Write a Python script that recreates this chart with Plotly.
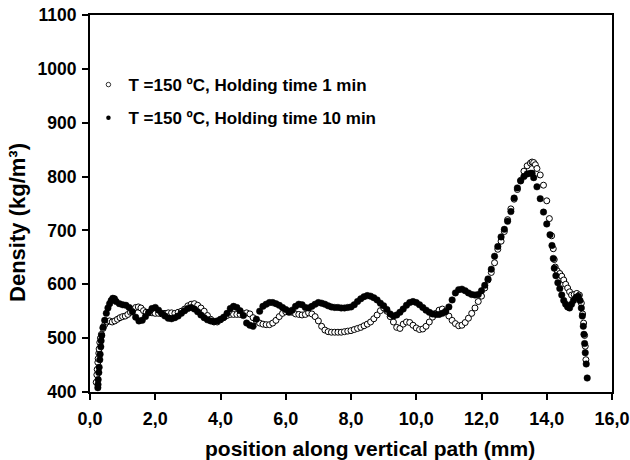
import plotly.graph_objects as go

# ---- data: T = 150 ºC, holding time 1 min (open circles) ----
x_1min = [0.19, 0.21, 0.22, 0.24, 0.25, 0.27, 0.28, 0.30, 0.32, 0.35, 0.40, 0.45, 0.52, 0.60, 0.68,
          0.76, 0.84, 0.92, 1.00, 1.08, 1.16, 1.24, 1.32, 1.40, 1.48, 1.56, 1.64, 1.72, 1.80, 1.90,
          2.00, 2.10, 2.20, 2.30, 2.40, 2.50, 2.60, 2.70, 2.80, 2.90, 3.00, 3.10, 3.20, 3.30, 3.40,
          3.50, 3.60, 3.70, 3.80, 3.90, 4.00, 4.10, 4.20, 4.30, 4.40, 4.50, 4.60, 4.70, 4.80, 4.90,
          5.00, 5.10, 5.20, 5.30, 5.40, 5.50, 5.60, 5.70, 5.80, 5.90, 6.00, 6.10, 6.20, 6.30, 6.40,
          6.50, 6.60, 6.70, 6.80, 6.90, 7.00, 7.10, 7.20, 7.30, 7.40, 7.50, 7.60, 7.70, 7.80, 7.90,
          8.00, 8.10, 8.20, 8.30, 8.40, 8.50, 8.60, 8.70, 8.80, 8.90, 9.00, 9.10, 9.20, 9.30, 9.40,
          9.50, 9.60, 9.70, 9.80, 9.90, 10.00, 10.10, 10.20, 10.30, 10.40, 10.50, 10.60, 10.70, 10.80,
          10.90, 11.00, 11.10, 11.20, 11.30, 11.40, 11.50, 11.60, 11.70, 11.80, 11.90, 12.00, 12.10,
          12.20, 12.30, 12.40, 12.50, 12.60, 12.70, 12.80, 12.90, 13.00, 13.10, 13.20, 13.30, 13.40,
          13.50, 13.55, 13.60, 13.65, 13.70, 13.80, 13.90, 14.00, 14.08, 14.15, 14.20, 14.23, 14.26,
          14.32, 14.40, 14.46, 14.52, 14.58, 14.64, 14.70, 14.76, 14.84, 14.92, 15.00, 15.06, 15.10,
          15.13, 15.16, 15.18, 15.20]
y_1min = [418, 432, 442, 455, 462, 472, 480, 492, 500, 507, 518, 525, 530, 532, 530,
          532, 535, 538, 540, 541, 544, 548, 553, 557, 558, 556, 551, 548, 547, 547,
          546, 546, 545, 546, 547, 547, 546, 548, 550, 554, 560, 563, 564, 561, 556,
          550, 542, 535, 530, 530, 534, 538, 542, 544, 544, 544, 544, 545, 547, 545,
          538, 532, 528, 526, 525, 525, 528, 533, 540, 546, 549, 550, 548, 545, 544,
          543, 544, 547, 545, 540, 532, 522, 515, 512, 511, 511, 511, 511, 512, 513,
          514, 516, 518, 520, 523, 526, 530, 536, 543, 551, 556, 550, 540, 530, 520,
          518, 526, 530, 529, 524, 519, 516, 517, 522, 530, 539, 546, 552, 554,
          550, 541, 533, 527, 523, 524, 529, 537, 546, 556, 568, 578, 593,
          608, 622, 640, 665, 680, 698, 720, 740, 758, 776, 793, 810, 820,
          825, 827, 826, 822, 815, 803, 784, 755, 722, 690, 666, 646, 632,
          625, 620, 615, 608, 600, 593, 586, 580, 581, 583, 580, 565, 545,
          528, 505, 485, 460]

# ---- data: T = 150 ºC, holding time 10 min (filled circles) ----
x_10min = [0.24, 0.245, 0.25, 0.27, 0.28, 0.30, 0.31, 0.33, 0.34, 0.36, 0.40, 0.45, 0.50, 0.55, 0.60,
           0.65, 0.70, 0.75, 0.80, 0.90, 1.00, 1.10, 1.20, 1.30, 1.40, 1.50, 1.60, 1.70, 1.80, 1.90,
           2.00, 2.10, 2.20, 2.30, 2.40, 2.50, 2.60, 2.70, 2.80, 2.90, 3.00, 3.10, 3.20, 3.30, 3.40,
           3.50, 3.60, 3.70, 3.80, 3.90, 4.00, 4.10, 4.20, 4.30, 4.40, 4.50, 4.60, 4.70, 4.80, 4.90,
           5.00, 5.10, 5.20, 5.30, 5.40, 5.50, 5.60, 5.70, 5.80, 5.90, 6.00, 6.10, 6.20, 6.30, 6.40,
           6.50, 6.60, 6.70, 6.80, 6.90, 7.00, 7.10, 7.20, 7.30, 7.40, 7.50, 7.60, 7.70, 7.80, 7.90,
           8.00, 8.10, 8.20, 8.30, 8.40, 8.50, 8.60, 8.70, 8.80, 8.90, 9.00, 9.10, 9.20, 9.30, 9.40,
           9.50, 9.60, 9.70, 9.80, 9.90, 10.00, 10.10, 10.20, 10.30, 10.40, 10.50, 10.60, 10.70, 10.80,
           10.90, 11.00, 11.10, 11.20, 11.30, 11.40, 11.50, 11.60, 11.70, 11.80, 11.90, 12.00, 12.10,
           12.20, 12.30, 12.40, 12.50, 12.60, 12.70, 12.80, 12.90, 13.00, 13.10, 13.20, 13.30, 13.40,
           13.50, 13.55, 13.60, 13.70, 13.80, 13.90, 14.00, 14.10, 14.16, 14.20, 14.23, 14.28, 14.34,
           14.40, 14.46, 14.52, 14.58, 14.64, 14.70, 14.76, 14.82, 14.90, 14.97, 15.02, 15.06, 15.09,
           15.12, 15.14, 15.16, 15.18, 15.21, 15.24]
y_10min = [408, 414, 423, 436, 446, 460, 470, 484, 495, 505, 520, 533, 546, 556, 564,
           570, 574, 573, 568, 564, 562, 561, 557, 549, 539, 532, 533, 540, 548, 555,
           557, 552, 546, 541, 537, 536, 538, 541, 546, 551, 555, 557, 554, 549, 543,
           538, 534, 532, 531, 532, 535, 539, 546, 555, 559, 557, 551, 542, 528, 524,
           522, 535, 550, 559, 563, 566, 566, 564, 561, 557, 553, 548, 552, 559, 563,
           562, 557, 556, 559, 563, 566, 565, 563, 560, 558, 557, 557, 556, 556, 557,
           558, 562, 568, 573, 577, 579, 578, 575, 571, 565, 560, 553, 545, 541, 543,
           548, 554, 561, 566, 568, 566, 562, 557, 552, 548, 545, 544, 544, 546,
           549, 558, 571, 584, 590, 591, 588, 584, 581, 580, 581, 588, 598,
           610, 628, 652, 670, 688, 702, 717, 735, 760, 779, 792, 800, 805,
           806, 806, 798, 781, 759, 734, 712, 692, 672, 648, 630, 616, 603,
           592, 580, 570, 563, 558, 556, 563, 570, 576, 578, 570, 556, 541,
           522, 507, 490, 473, 452, 426]

x_tick_vals = [0, 2, 4, 6, 8, 10, 12, 14, 16]
x_tick_text = ["0,0", "2,0", "4,0", "6,0", "8,0", "10,0", "12,0", "14,0", "16,0"]
y_tick_vals = [400, 500, 600, 700, 800, 900, 1000, 1100]

series_names = ["T =150 ºC, Holding time 1 min", "T =150 ºC, Holding time 10 min"]
x_title = "position along vertical path (mm)"
y_title = "Density (kg/m³)"

FONT = "Liberation Sans, Arial, Helvetica, sans-serif"

open_marker = dict(symbol="circle", size=6, color="white", line=dict(color="black", width=1))
filled_marker = dict(symbol="circle", size=6.5, color="black", line=dict(color="black", width=0.5))

fig = go.Figure()
fig.add_trace(go.Scatter(x=x_1min, y=y_1min, mode="markers", name=series_names[0],
                         marker=open_marker, cliponaxis=False, showlegend=False))
fig.add_trace(go.Scatter(x=x_10min, y=y_10min, mode="markers", name=series_names[1],
                         marker=filled_marker, cliponaxis=False, showlegend=False))
# legend entries (smaller legend symbols, as in the original)
fig.add_trace(go.Scatter(x=[None], y=[None], mode="markers", name=series_names[0], legendgroup="a",
                         marker=dict(symbol="circle", size=4.5, color="white",
                                     line=dict(color="black", width=0.8))))
fig.add_trace(go.Scatter(x=[None], y=[None], mode="markers", name=series_names[1], legendgroup="b",
                         marker=dict(symbol="circle", size=4.5, color="black")))

fig.update_layout(
    width=630, height=460,
    margin=dict(l=90, r=18, t=15, b=68),
    paper_bgcolor="white", plot_bgcolor="white",
    font=dict(family=FONT, color="black", size=14),
    showlegend=True,
    legend=dict(
        x=-0.003, y=0.862, xanchor="left", yanchor="top",
        bgcolor="rgba(0,0,0,0)", borderwidth=0,
        font=dict(family=FONT, size=17, color="black", weight="bold"),
        tracegroupgap=8,
    ),
    xaxis=dict(
        range=[0, 16], tickvals=x_tick_vals, ticktext=x_tick_text, automargin=False,
        showline=True, linecolor="black", linewidth=2, mirror=True,
        ticks="outside", ticklen=6, tickwidth=1.5, tickcolor="black",
        showgrid=False, zeroline=False, ticklabelstandoff=3,
        tickfont=dict(family=FONT, size=18, color="black", weight="bold"),
    ),
    yaxis=dict(
        range=[400, 1100], tickvals=y_tick_vals, automargin=False,
        showline=True, linecolor="black", linewidth=2, mirror=True,
        ticks="outside", ticklen=6, tickwidth=1.5, tickcolor="black",
        showgrid=False, zeroline=False, ticklabelstandoff=2,
        tickfont=dict(family=FONT, size=17.5, color="black", weight="bold"),
    ),
    annotations=[
        dict(text=x_title, xref="paper", yref="paper", x=0.536, y=-0.149,
             xanchor="center", yanchor="middle", showarrow=False,
             font=dict(family=FONT, size=21, color="black", weight="bold")),
        dict(text=y_title, xref="paper", yref="paper", x=-0.138, y=0.451, textangle=-90,
             xanchor="center", yanchor="middle", showarrow=False,
             font=dict(family=FONT, size=22, color="black", weight="bold")),
    ],
)

fig.write_html("out.html")
